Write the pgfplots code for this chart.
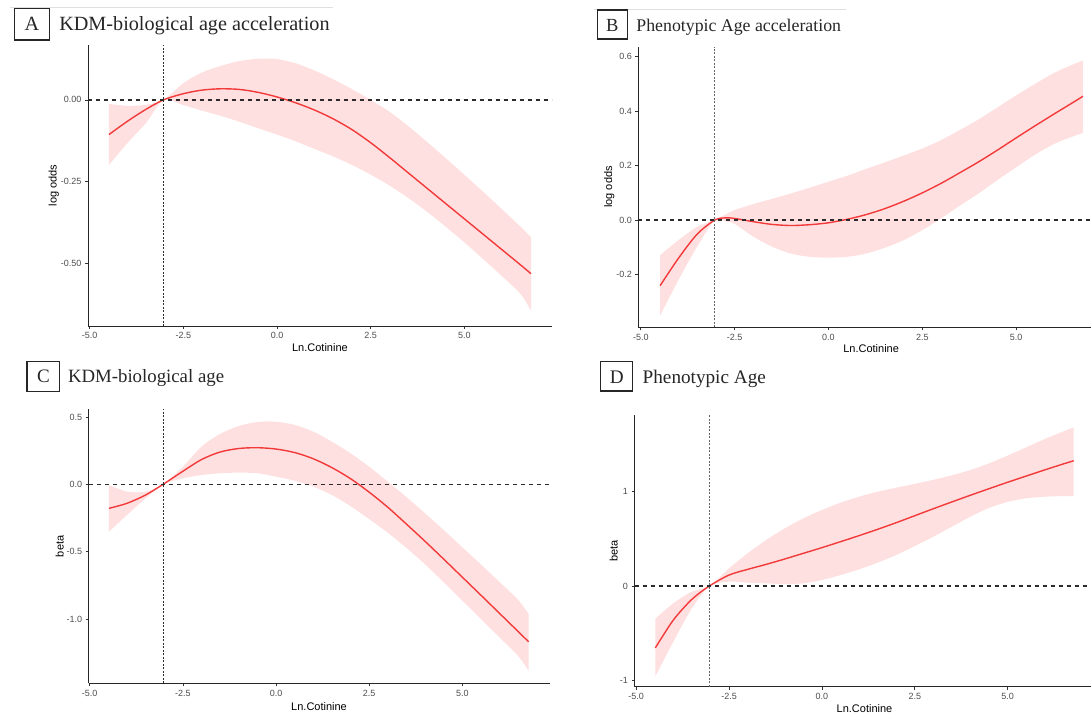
\documentclass[border=0pt]{standalone}
\usepackage{pgfplots}
\pgfplotsset{compat=1.18}
\usepackage{pgfplotstable}
\usepgfplotslibrary{fillbetween}
\usepackage{fontspec}
\setmainfont{Liberation Serif}
\newfontfamily\sansf{Liberation Sans}
\definecolor{band}{HTML}{FFE0E0}
\definecolor{curve}{HTML}{F23A3A}
\definecolor{tickgray}{HTML}{4D4D4D}
\definecolor{dashgray}{HTML}{2B2B2B}

\pgfplotstableread{
x y lo hi
-4.485 -0.106 -0.199 -0.012
-4.0 -0.066 -0.133 -0.018
-3.5 -0.029 -0.071 -0.015
-3.03 0 0 0
-2.5 0.019 -0.016 0.051
-2.0 0.030 -0.033 0.084
-1.5 0.034 -0.049 0.104
-1.0 0.032 -0.067 0.119
-0.5 0.023 -0.087 0.126
0.0 0.009 -0.106 0.125
0.5 -0.009 -0.127 0.112
1.0 -0.031 -0.150 0.090
1.5 -0.058 -0.173 0.063
2.0 -0.091 -0.199 0.033
2.5 -0.131 -0.229 0.000
3.0 -0.176 -0.262 -0.036
3.5 -0.223 -0.300 -0.080
4.0 -0.270 -0.342 -0.128
4.5 -0.317 -0.388 -0.178
5.0 -0.364 -0.436 -0.229
5.5 -0.411 -0.487 -0.281
6.0 -0.458 -0.539 -0.334
6.5 -0.505 -0.594 -0.388
6.78 -0.532 -0.645 -0.420
}\tabA

\pgfplotstableread{
x y lo hi
-4.485 -0.241 -0.351 -0.129
-4.0 -0.141 -0.221 -0.074
-3.5 -0.052 -0.098 -0.025
-3.03 0 0 0
-2.75 0.008 -0.004 0.020
-2.5 0.006 -0.014 0.037
-2.0 -0.006 -0.061 0.059
-1.5 -0.016 -0.098 0.078
-1.0 -0.020 -0.123 0.098
-0.5 -0.017 -0.135 0.119
0.0 -0.010 -0.138 0.141
0.5 0.003 -0.135 0.163
1.0 0.020 -0.123 0.188
1.5 0.042 -0.102 0.212
2.0 0.069 -0.074 0.237
2.5 0.100 -0.037 0.263
3.0 0.135 0.006 0.294
3.5 0.174 0.053 0.331
4.0 0.214 0.098 0.370
4.5 0.257 0.147 0.414
5.0 0.302 0.194 0.458
5.5 0.346 0.240 0.500
6.0 0.389 0.279 0.540
6.5 0.431 0.307 0.571
6.78 0.455 0.320 0.586
}\tabB

\pgfplotstableread{
x y lo hi
-4.485 -0.178 -0.351 -0.005
-4.0 -0.141 -0.228 -0.054
-3.5 -0.079 -0.104 -0.054
-3.03 0 0 0
-2.5 0.097 0.045 0.131
-2.0 0.184 0.069 0.280
-1.5 0.240 0.082 0.374
-1.0 0.266 0.087 0.433
-0.5 0.272 0.082 0.463
0.0 0.262 0.057 0.465
0.5 0.236 0.027 0.441
1.0 0.190 -0.017 0.391
1.5 0.124 -0.079 0.317
2.0 0.042 -0.162 0.230
2.5 -0.058 -0.258 0.131
3.0 -0.170 -0.359 0.020
3.5 -0.295 -0.472 -0.094
4.0 -0.423 -0.594 -0.215
4.5 -0.555 -0.727 -0.339
5.0 -0.689 -0.863 -0.467
5.5 -0.823 -1.000 -0.595
6.0 -0.958 -1.137 -0.725
6.5 -1.093 -1.275 -0.858
6.78 -1.169 -1.385 -0.962
}\tabC

\pgfplotstableread{
x y lo hi
-4.485 -0.655 -0.958 -0.345
-4.0 -0.360 -0.589 -0.183
-3.5 -0.141 -0.236 -0.060
-3.03 0 0 0
-2.5 0.116 0.046 0.187
-2.0 0.176 0.035 0.346
-1.5 0.229 0.028 0.487
-1.0 0.286 0.021 0.610
-0.5 0.346 0.028 0.716
0.0 0.406 0.063 0.804
0.5 0.469 0.116 0.882
1.0 0.533 0.176 0.945
1.5 0.600 0.247 0.998
2.0 0.670 0.328 1.041
2.5 0.744 0.423 1.081
3.0 0.818 0.522 1.124
3.5 0.890 0.628 1.172
4.0 0.961 0.734 1.228
4.5 1.030 0.826 1.298
5.0 1.098 0.890 1.380
5.5 1.164 0.928 1.468
6.0 1.229 0.945 1.556
6.5 1.292 0.952 1.636
6.78 1.326 0.952 1.679
}\tabD

\pgfplotsset{
  rcs/.style={
    scale only axis,
    anchor=south west,
    axis x line*=bottom,
    axis y line*=left,
    axis line style={-, black!85, line width=0.7pt},
    tick align=outside,
    major tick length=3pt,
    tick style={black!80, line width=0.6pt},
    ticklabel style={font=\sansf\fontsize{9}{10}\selectfont, text=tickgray},
    label style={font=\sansf\fontsize{11}{12}\selectfont, text=black},
    xtick={-5,-2.5,0,2.5,5},
    xticklabels={-5.0,-2.5,0.0,2.5,5.0},
    clip=true,
  },
  bandstyle/.style={fill=band, draw=none},
  curvestyle/.style={curve, line width=1.4pt, smooth, tension=0.5},
  hdash/.style={dashgray, line width=1.25pt, dash pattern=on 4pt off 4pt},
  vdot/.style={dashgray, line width=0.7pt, dash pattern=on 2pt off 1.5pt},
}

\begin{document}
\begin{tikzpicture}
% top light lines
\draw[black!12, line width=0.8pt] (10.4pt,-7pt) -- (332.6pt,-7pt);
\draw[black!12, line width=0.8pt] (593.7pt,-9pt) -- (846.2pt,-9pt);

% ---------- Panel A ----------
\begin{axis}[rcs, at={(87.9pt,-326pt)}, width=464.1pt, height=281pt,
  xmin=-5.048, xmax=7.34, ymin=-0.692, ymax=0.168,
  ytick={-0.5,-0.25,0}, yticklabels={-0.50,-0.25,0.00},
  xlabel={Ln.Cotinine}, ylabel={log odds},
  xlabel style={at={(axis description cs:0.5,-0.077)}, anchor=center},
  ylabel style={at={(axis description cs:-0.0733,0.5)}, anchor=center}]
\addplot[name path=ahi, draw=none, smooth, tension=0.5] table[x=x, y=hi] {\tabA};
\addplot[name path=alo, draw=none, smooth, tension=0.5] table[x=x, y=lo] {\tabA};
\addplot[bandstyle] fill between[of=ahi and alo];
\addplot[curvestyle] table[x=x, y=y] {\tabA};
\addplot[hdash] coordinates {(-5.048,0) (7.34,0)};
\addplot[vdot] coordinates {(-3.03,-0.692) (-3.03,0.168)};
\end{axis}

% ---------- Panel B ----------
\begin{axis}[rcs, at={(638.3pt,-327.3pt)}, width=465.7pt, height=280.6pt,
  xmin=-5.066, xmax=7.34, ymin=-0.394, ymax=0.637,
  ytick={-0.2,0,0.2,0.4,0.6}, yticklabels={-0.2,0.0,0.2,0.4,0.6},
  xlabel={Ln.Cotinine}, ylabel={log odds},
  xlabel style={at={(axis description cs:0.5,-0.077)}, anchor=center},
  ylabel style={at={(axis description cs:-0.0621,0.5)}, anchor=center}]
\addplot[name path=bhi, draw=none, smooth, tension=0.5] table[x=x, y=hi] {\tabB};
\addplot[name path=blo, draw=none, smooth, tension=0.5] table[x=x, y=lo] {\tabB};
\addplot[bandstyle] fill between[of=bhi and blo];
\addplot[curvestyle] table[x=x, y=y] {\tabB};
\addplot[hdash] coordinates {(-5.066,0) (7.34,0)};
\addplot[vdot, black!60] coordinates {(-3.03,-0.394) (-3.03,0.637)};
\end{axis}

% ---------- Panel C ----------
\begin{axis}[rcs, at={(88.6pt,-683.3pt)}, width=460.9pt, height=274pt,
  xmin=-5.03, xmax=7.34, ymin=-1.477, ymax=0.557,
  ytick={-1,-0.5,0,0.5}, yticklabels={-1.0,-0.5,0.0,0.5},
  xlabel={Ln.Cotinine}, ylabel={beta},
  xlabel style={at={(axis description cs:0.5,-0.085)}, anchor=center},
  ylabel style={at={(axis description cs:-0.0625,0.5)}, anchor=center}]
\addplot[name path=chi, draw=none, smooth, tension=0.5] table[x=x, y=hi] {\tabC};
\addplot[name path=clo, draw=none, smooth, tension=0.5] table[x=x, y=lo] {\tabC};
\addplot[bandstyle] fill between[of=chi and clo];
\addplot[curvestyle] table[x=x, y=y] {\tabC};
\addplot[hdash] coordinates {(-5.03,0) (7.34,0)};
\addplot[vdot] coordinates {(-3.03,-1.477) (-3.03,0.557)};
\end{axis}

% ---------- Panel D ----------
\begin{axis}[rcs, at={(634.5pt,-686.7pt)}, width=460pt, height=271.7pt,
  xmin=-5.046, xmax=7.34, ymin=-1.066, ymax=1.81,
  ytick={-1,0,1}, yticklabels={-1,0,1},
  xlabel={Ln.Cotinine}, ylabel={beta},
  xlabel style={at={(axis description cs:0.5,-0.080)}, anchor=center},
  ylabel style={at={(axis description cs:-0.0454,0.5)}, anchor=center}]
\addplot[name path=dhi, draw=none, smooth, tension=0.5] table[x=x, y=hi] {\tabD};
\addplot[name path=dlo, draw=none, smooth, tension=0.5] table[x=x, y=lo] {\tabD};
\addplot[bandstyle] fill between[of=dhi and dlo];
\addplot[curvestyle] table[x=x, y=y] {\tabD};
\addplot[hdash] coordinates {(-5.046,0) (7.34,0)};
\addplot[vdot, black!60] coordinates {(-3.03,-1.066) (-3.03,1.81)};
\end{axis}

% ---------- Titles ----------
\tikzset{tbox/.style={draw=black!85, line width=1.3pt}}
\tikzset{ttext/.style={text=black!85, inner sep=0pt}}
\draw[tbox] (14.6pt,-8.3pt) rectangle (49.4pt,-40pt);
\node[ttext, font=\fontsize{20.2}{22}\selectfont, anchor=base] at (32pt,-30.7pt) {A};
\node[ttext, font=\fontsize{20.2}{22}\selectfont, anchor=base west] at (59.1pt,-30.7pt) {KDM-biological age acceleration};

\draw[tbox] (597.2pt,-10pt) rectangle (627.5pt,-39pt);
\node[ttext, font=\fontsize{18.5}{22}\selectfont, anchor=base] at (612.4pt,-31.7pt) {B};
\node[ttext, font=\fontsize{17.8}{22}\selectfont, anchor=base west] at (636.2pt,-31.7pt) {Phenotypic Age acceleration};

\draw[tbox] (27.1pt,-361.7pt) rectangle (59.8pt,-391.7pt);
\node[ttext, font=\fontsize{19}{22}\selectfont, anchor=base] at (43.5pt,-382.7pt) {C};
\node[ttext, font=\fontsize{18.8}{22}\selectfont, anchor=base west] at (67.8pt,-382.7pt) {KDM-biological age};

\draw[tbox] (600.7pt,-361.7pt) rectangle (632.7pt,-391pt);
\node[ttext, font=\fontsize{19.2}{22}\selectfont, anchor=base] at (616.7pt,-383.3pt) {D};
\node[ttext, font=\fontsize{19.2}{22}\selectfont, anchor=base west] at (642.5pt,-383.3pt) {Phenotypic Age};

\pgfresetboundingbox
\useasboundingbox (0pt,0pt) rectangle (1091pt,-715pt);
\end{tikzpicture}
\end{document}
